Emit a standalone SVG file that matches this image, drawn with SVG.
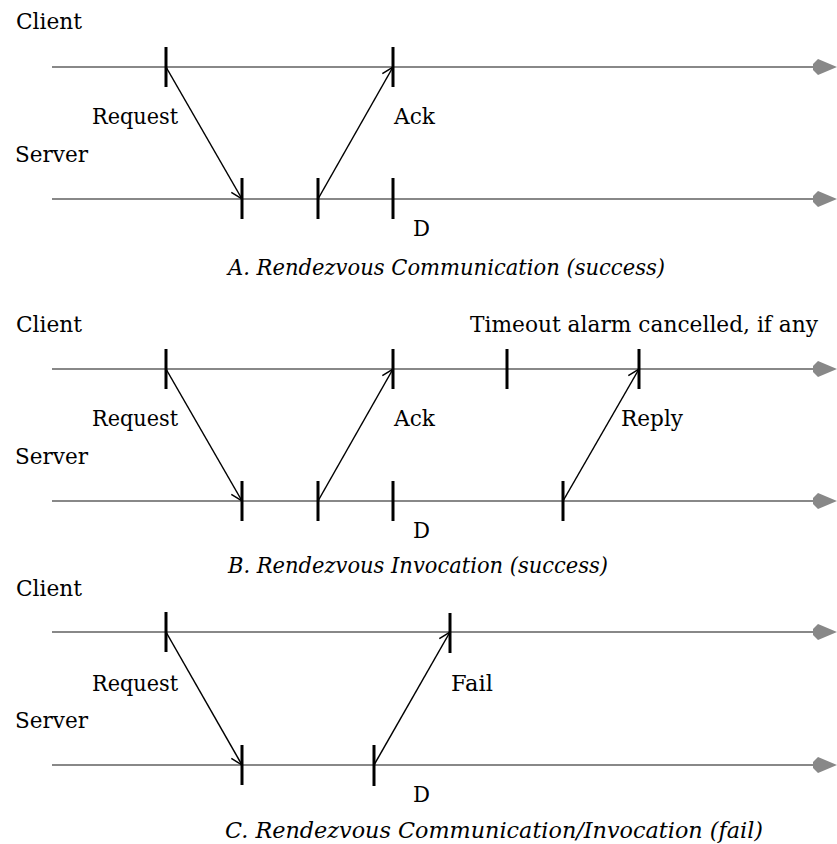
<svg xmlns="http://www.w3.org/2000/svg" width="837" height="844" viewBox="0 0 837 844">
<style>
text{font-family:"DejaVu Serif","Liberation Serif",serif;font-size:21.5px;fill:#000}
.cap{font-style:italic}
.tl{stroke:#888;stroke-width:2;fill:none}
.tk{stroke:#000;stroke-width:3}
.msg{stroke:#000;stroke-width:1.5;fill:none}
.ah{fill:#888}
</style>
<defs>
<marker id="open" markerWidth="14" markerHeight="14" refX="12" refY="7" orient="auto" markerUnits="userSpaceOnUse">
<path d="M1,1 L12,7 L1,13" fill="none" stroke="#000" stroke-width="1.5"/>
</marker>
<path id="head" d="M0,0 L-19,-8 L-24,-3 L-24,3 L-19,8 Z"/>
</defs>

<g id="sectionA">
<g id="A-labels">
<text x="16" y="29" textLength="66" lengthAdjust="spacingAndGlyphs">Client</text>
<text x="15" y="162" textLength="73" lengthAdjust="spacingAndGlyphs">Server</text>
<text x="92" y="124" textLength="86" lengthAdjust="spacingAndGlyphs">Request</text>
<text x="394" y="124" textLength="41" lengthAdjust="spacingAndGlyphs">Ack</text>
<text x="413" y="236" textLength="17" lengthAdjust="spacingAndGlyphs">D</text>
<text class="cap" x="228" y="275" textLength="437" lengthAdjust="spacingAndGlyphs">A. Rendezvous Communication (success)</text>
</g>
<g id="A-timelines">
<line class="tl" x1="52" y1="67" x2="815" y2="67"/>
<use href="#head" class="ah" transform="translate(837,67)"/>
<line class="tl" x1="52" y1="199" x2="815" y2="199"/>
<use href="#head" class="ah" transform="translate(837,199)"/>
</g>
<g id="A-ticks">
<line class="tk" x1="166" y1="47" x2="166" y2="87"/>
<line class="tk" x1="393" y1="47" x2="393" y2="87"/>
<line class="tk" x1="242" y1="178" x2="242" y2="219"/>
<line class="tk" x1="318" y1="178" x2="318" y2="219"/>
<line class="tk" x1="393" y1="178" x2="393" y2="219"/>
</g>
<g id="A-connectors">
<line class="msg" x1="166" y1="67" x2="242" y2="199" marker-end="url(#open)"/>
<line class="msg" x1="318" y1="199" x2="393" y2="67" marker-end="url(#open)"/>
</g>
</g>

<g id="sectionB">
<g id="B-labels">
<text x="16" y="332" textLength="66" lengthAdjust="spacingAndGlyphs">Client</text>
<text x="15" y="464" textLength="73" lengthAdjust="spacingAndGlyphs">Server</text>
<text x="92" y="426" textLength="86" lengthAdjust="spacingAndGlyphs">Request</text>
<text x="394" y="426" textLength="41" lengthAdjust="spacingAndGlyphs">Ack</text>
<text x="621" y="426" textLength="62" lengthAdjust="spacingAndGlyphs">Reply</text>
<text x="470" y="332" textLength="348" lengthAdjust="spacingAndGlyphs">Timeout alarm cancelled, if any</text>
<text x="413" y="538" textLength="17" lengthAdjust="spacingAndGlyphs">D</text>
<text class="cap" x="228" y="573" textLength="380" lengthAdjust="spacingAndGlyphs">B. Rendezvous Invocation (success)</text>
</g>
<g id="B-timelines">
<line class="tl" x1="52" y1="369" x2="815" y2="369"/>
<use href="#head" class="ah" transform="translate(837,369)"/>
<line class="tl" x1="52" y1="501" x2="815" y2="501"/>
<use href="#head" class="ah" transform="translate(837,501)"/>
</g>
<g id="B-ticks">
<line class="tk" x1="166" y1="349" x2="166" y2="389"/>
<line class="tk" x1="393" y1="349" x2="393" y2="389"/>
<line class="tk" x1="507" y1="349" x2="507" y2="389"/>
<line class="tk" x1="639" y1="349" x2="639" y2="389"/>
<line class="tk" x1="242" y1="481" x2="242" y2="521"/>
<line class="tk" x1="318" y1="481" x2="318" y2="521"/>
<line class="tk" x1="393" y1="481" x2="393" y2="521"/>
<line class="tk" x1="563" y1="481" x2="563" y2="521"/>
</g>
<g id="B-connectors">
<line class="msg" x1="166" y1="369" x2="242" y2="501" marker-end="url(#open)"/>
<line class="msg" x1="318" y1="501" x2="393" y2="369" marker-end="url(#open)"/>
<line class="msg" x1="563" y1="501" x2="639" y2="369" marker-end="url(#open)"/>
</g>
</g>

<g id="sectionC">
<g id="C-labels">
<text x="16" y="596" textLength="66" lengthAdjust="spacingAndGlyphs">Client</text>
<text x="15" y="728" textLength="73" lengthAdjust="spacingAndGlyphs">Server</text>
<text x="92" y="691" textLength="86" lengthAdjust="spacingAndGlyphs">Request</text>
<text x="451" y="691" textLength="42" lengthAdjust="spacingAndGlyphs">Fail</text>
<text x="413" y="802" textLength="17" lengthAdjust="spacingAndGlyphs">D</text>
<text class="cap" x="225" y="838" textLength="538" lengthAdjust="spacingAndGlyphs">C. Rendezvous Communication/Invocation (fail)</text>
</g>
<g id="C-timelines">
<line class="tl" x1="52" y1="632" x2="815" y2="632"/>
<use href="#head" class="ah" transform="translate(837,632)"/>
<line class="tl" x1="52" y1="765" x2="815" y2="765"/>
<use href="#head" class="ah" transform="translate(837,765)"/>
</g>
<g id="C-ticks">
<line class="tk" x1="166" y1="612" x2="166" y2="652"/>
<line class="tk" x1="450" y1="613" x2="450" y2="653"/>
<line class="tk" x1="242" y1="745" x2="242" y2="785"/>
<line class="tk" x1="374" y1="745" x2="374" y2="786"/>
</g>
<g id="C-connectors">
<line class="msg" x1="166" y1="632" x2="242" y2="765" marker-end="url(#open)"/>
<line class="msg" x1="374" y1="765" x2="450" y2="632" marker-end="url(#open)"/>
</g>
</g>
</svg>
